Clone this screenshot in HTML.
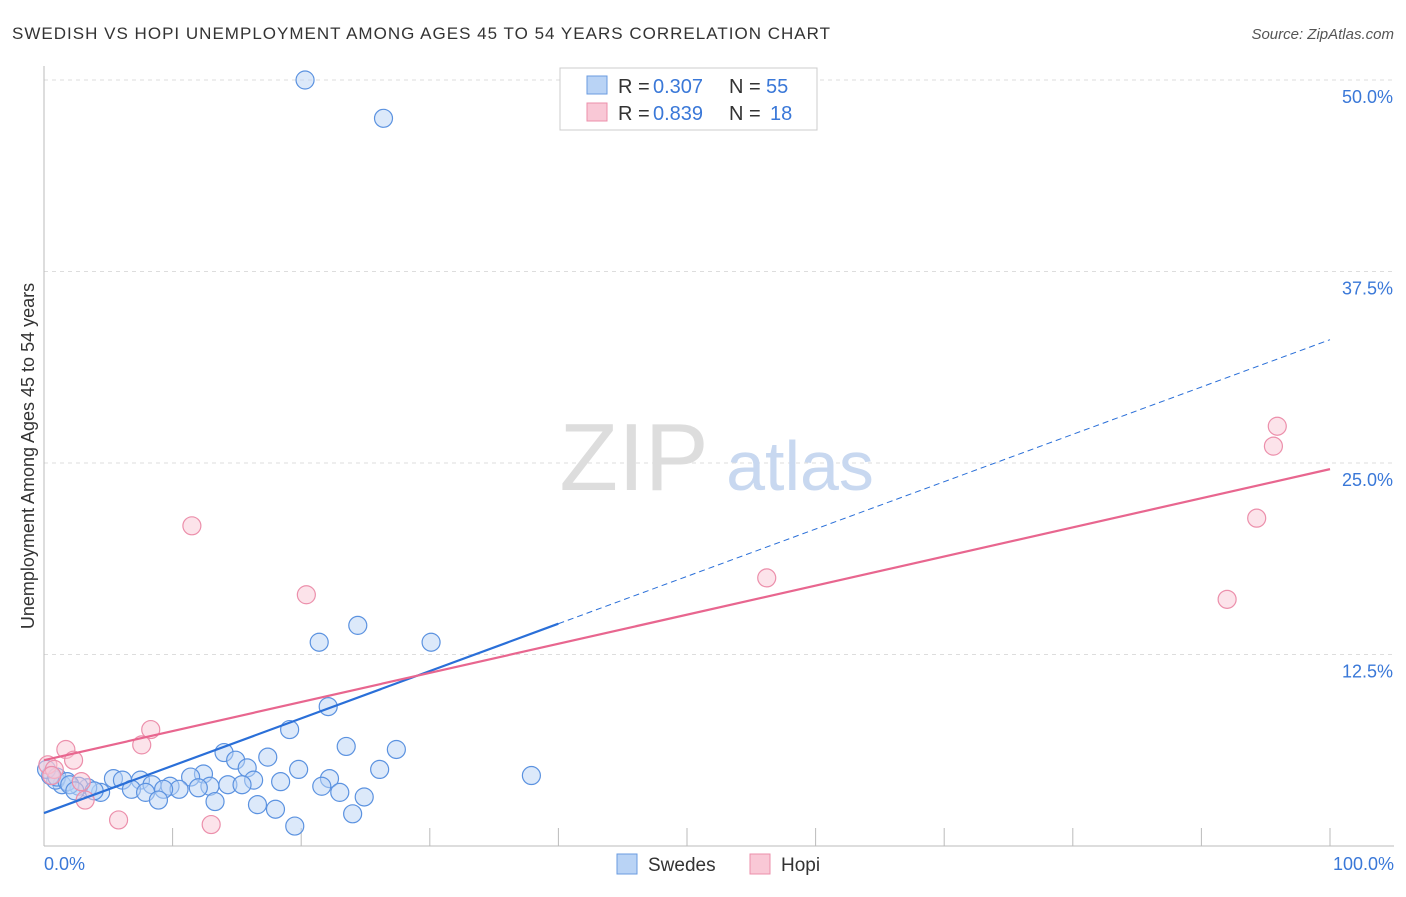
<!DOCTYPE html>
<html><head><meta charset="utf-8"><style>
body{margin:0;background:#fff;font-family:"Liberation Sans",sans-serif}
svg text{font-family:"Liberation Sans",sans-serif}
</style></head><body>
<svg id="c" width="1406" height="892">
<text x="12" y="39" font-size="17" fill="#333" textLength="818">SWEDISH VS HOPI UNEMPLOYMENT AMONG AGES 45 TO 54 YEARS CORRELATION CHART</text>
<text x="1394" y="39" font-size="15" fill="#555" text-anchor="end" font-style="italic">Source: ZipAtlas.com</text>
<g id="grid"></g>
<text x="634" y="490" font-size="96" fill="#ddd" font-family="Liberation Serif" text-anchor="middle">ZIP</text>
<text x="800" y="490" font-size="70" fill="#c8d8f0" text-anchor="middle">atlas</text>
<text transform="translate(34,456) rotate(-90)" font-size="18" fill="#333" text-anchor="middle">Unemployment Among Ages 45 to 54 years</text>
<g id="marks"></g>
<g>
<rect x="560" y="68" width="257" height="62" fill="#fff" stroke="#ccc"/>
<rect x="587" y="76" width="20" height="18" fill="#b9d3f5" stroke="#6a9be0"/>
<rect x="587" y="103" width="20" height="18" fill="#f9c8d6" stroke="#ec8fab"/>
<text x="618" y="93" font-size="20" fill="#333">R =</text><text x="653" y="93" font-size="20" fill="#3a78d8">0.307</text>
<text x="729" y="93" font-size="20" fill="#333">N =</text><text x="766" y="93" font-size="20" fill="#3a78d8">55</text>
<text x="618" y="120" font-size="20" fill="#333">R =</text><text x="653" y="120" font-size="20" fill="#3a78d8">0.839</text>
<text x="729" y="120" font-size="20" fill="#333">N =</text><text x="770" y="120" font-size="20" fill="#3a78d8">18</text>
</g>
<g>
<rect x="617" y="854" width="20" height="20" fill="#b9d3f5" stroke="#6a9be0"/>
<text x="648" y="871" font-size="19" fill="#333">Swedes</text>
<rect x="750" y="854" width="20" height="20" fill="#f9c8d6" stroke="#ec8fab"/>
<text x="781" y="871" font-size="19" fill="#333">Hopi</text>
</g>
</svg>
<script>
const yTicks=[12.5,25,37.5,50];
const yTickLabels=["12.5%","25.0%","37.5%","50.0%"];
const xTicks=[0,10,20,30,40,50,60,70,80,90,100];
const swedesX=[20.3,26.4,24.4,21.4,30.1,22.1,19.1,23.5,27.4,14,17.4,14.9,15.8,19.8,26.1,12.4,11.4,37.9,22.2,16.3,18.4,14.3,15.4,12.9,7.5,5.4,6.1,8.4,9.8,12,21.6,23,10.5,9.3,6.8,4.4,3.4,2.7,1.4,0.9,0.5,0.2,1,1.8,3.9,7.9,8.9,13.3,24.9,16.6,18.0,24.0,19.5,2,2.4];
const swedesY=[50,47.5,14.4,13.3,13.3,9.1,7.6,6.5,6.3,6.1,5.8,5.6,5.1,5,5,4.7,4.5,4.6,4.4,4.3,4.2,4,4,3.9,4.3,4.4,4.3,4,3.9,3.8,3.9,3.5,3.7,3.7,3.7,3.5,3.8,3.9,4,4.3,4.6,5,4.5,4.2,3.6,3.5,3,2.9,3.2,2.7,2.4,2.1,1.3,4.0,3.6];
const hopiX=[11.5,20.4,8.3,7.6,1.7,2.3,0.3,0.8,2.9,3.2,5.8,13,56.2,95.9,95.6,94.3,92,0.6];
const hopiY=[20.9,16.4,7.6,6.6,6.3,5.6,5.3,5,4.2,3,1.7,1.4,17.5,27.4,26.1,21.4,16.1,4.6];
const blueLine=[2.15,33.05], blueSolidEnd=40;
const pinkLine=[5.6,24.6];
const X=v=>44+v*12.86, Y=v=>846-v*15.32;
const NS="http://www.w3.org/2000/svg";
const grid=document.getElementById('grid'), marks=document.getElementById('marks');
function mk(p,tag,a){const e=document.createElementNS(NS,tag);for(const k in a)e.setAttribute(k,a[k]);p.appendChild(e);return e;}
yTicks.forEach((t,i)=>{
 const l=mk(grid,'line',{x1:44,x2:1394,y1:Y(t),y2:Y(t),stroke:'#ddd','stroke-dasharray':'4,4'});
 
 
 const tx=mk(grid,'text',{x:1393,y:Y(t)+23,'font-size':18,fill:'#3a78d8','text-anchor':'end'});
 tx.textContent=yTickLabels[i];
 
 
});
const ax=mk(grid,'line',{x1:44,x2:44,y1:66,y2:846,stroke:'#bbb'});


const bx=mk(grid,'line',{x1:44,x2:1394,y1:846,y2:846,stroke:'#bbb'});


xTicks.forEach(t=>{const l=mk(grid,'line',{x1:X(t),x2:X(t),y1:828,y2:846,stroke:'#bbb'});
 
 });
[[0,'0.0%','start',44],[100,'100.0%','end',1394]].forEach(d=>{
 const t=mk(grid,'text',{x:d[3],y:870,'font-size':18,fill:'#3a78d8','text-anchor':d[2]});t.textContent=d[1];
 
 });
function dots(xs,ys,fill,stroke,name){xs.forEach((x,i)=>{
 const c=mk(marks,'circle',{cx:X(x),cy:Y(ys[i]),r:9,fill:fill,'fill-opacity':0.5,stroke:stroke,'stroke-width':1.2});
 
 });}
dots(swedesX,swedesY,'#b9d3f5','#5b92e0','swedes-point');
dots(hopiX,hopiY,'#f9c8d6','#ec8fab','hopi-point');
const bAt=x=>blueLine[0]+(blueLine[1]-blueLine[0])*x/100;
const b1=mk(marks,'line',{x1:X(0),y1:Y(bAt(0)),x2:X(blueSolidEnd),y2:Y(bAt(blueSolidEnd)),stroke:'#2a6fd8','stroke-width':2.2});


const b2=mk(marks,'line',{x1:X(blueSolidEnd),y1:Y(bAt(blueSolidEnd)),x2:X(100),y2:Y(bAt(100)),stroke:'#2a6fd8','stroke-width':1,'stroke-dasharray':'6,4'});


const p=mk(marks,'line',{x1:X(0),y1:Y(pinkLine[0]),x2:X(100),y2:Y(pinkLine[1]),stroke:'#e8668f','stroke-width':2.2});


</script>
</body></html>
